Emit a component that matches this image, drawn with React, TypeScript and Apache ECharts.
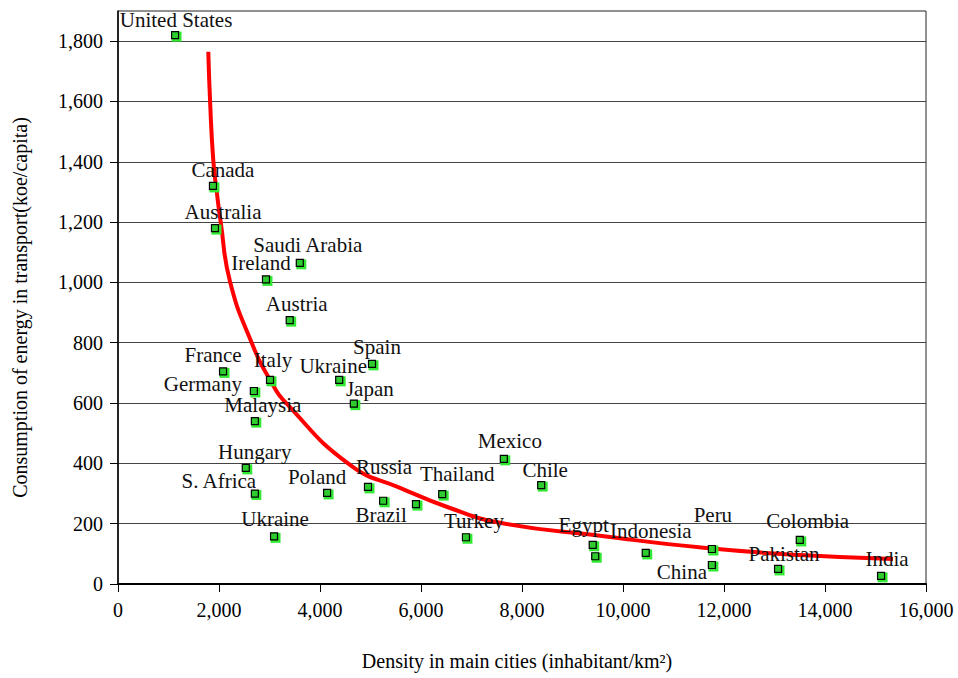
import React, { useEffect, useRef } from "react";
import * as echarts from "echarts";

// ---- data ----
const countries = [
  "United States", "Canada", "Australia", "Saudi Arabia", "Ireland", "Austria",
  "France", "Italy", "Ukraine", "Spain", "Germany", "Japan", "Malaysia",
  "Hungary", "S. Africa", "Poland", "Russia", "Brazil", "", "Ukraine",
  "Thailand", "Mexico", "Chile", "Turkey", "Egypt", "", "Indonesia",
  "Peru", "China", "Pakistan", "Colombia", "India",
];
const density = [
  1130, 1880, 1920, 3600, 2930, 3400,
  2080, 3010, 4380, 5030, 2690, 4670, 2710,
  2530, 2710, 4140, 4950, 5250, 5900, 3090,
  6420, 7640, 8380, 6890, 9400, 9450, 10450,
  11760, 11760, 13070, 13500, 15110,
];
const energy = [
  1820, 1320, 1180, 1065, 1010, 875,
  705, 677, 677, 730, 640, 598, 540,
  385, 300, 302, 322, 276, 265, 158,
  298, 415, 328, 155, 130, 92, 103,
  116, 63, 50, 146, 27,
];
// fitted trend curve
const curveX = [1788, 1822, 1887, 1974, 2032, 2218, 2647, 3010, 3340, 4594, 5584, 6574, 7564, 9545, 11600, 13505, 15347];
const curveY = [1765, 1607, 1405, 1275, 1202, 1003, 800, 677, 598, 395, 319, 252, 203, 160, 120, 96, 83];

const yTicks = [0, 200, 400, 600, 800, 1000, 1200, 1400, 1600, 1800];
const xTicks = [0, 2000, 4000, 6000, 8000, 10000, 12000, 14000, 16000];

// ---- label placement (style, offsets of label centre from the marker) ----
const labelOffsets: [number, number][] = [
  [1, -15], [10, -16], [8, -16], [8, -18], [-5, -16], [7, -16],
  [-10, -16], [3, -20], [-6, -14], [5, -17], [-51, -7], [16, -15], [8, -16],
  [9, -16], [-36, -13], [-10, -16], [16, -20], [-2, 14], [0, 0], [1, -17],
  [15, -20], [6, -18], [4, -15], [8, -16], [-9, -20], [0, 0], [5, -22],
  [1, -34], [-30, 7], [6, -15], [8, -19], [6, -17],
];

const FONT = "'Liberation Serif', 'Times New Roman', serif";
const fmt = (v: number) => v.toLocaleString("en-US");

export default function App() {
  const ref = useRef<HTMLDivElement>(null);
  useEffect(() => {
    if (!ref.current) return;
    const chart = echarts.init(ref.current, undefined, { renderer: "svg" });
    const pts = density.map((x, i) => [x, energy[i]]);
    const option: any = {
      animation: false,
      backgroundColor: "#fff",
      textStyle: { fontFamily: FONT },
      grid: {
        left: 118, right: 32, top: 11, bottom: 94,
        show: true, borderColor: "#222", borderWidth: 1, backgroundColor: "transparent",
      },
      xAxis: {
        type: "value", min: 0, max: 16000, interval: 2000,
        name: "Density in main cities (inhabitant/km²)",
        nameLocation: "middle", nameGap: 67,
        nameTextStyle: { fontFamily: FONT, fontSize: 20, color: "#000", padding: [0, 10, 0, 0] },
        axisLine: { show: true, onZero: false, lineStyle: { color: "#000", width: 2 } },
        axisTick: { show: true, length: 8, lineStyle: { color: "#000", width: 1 }, customValues: xTicks },
        axisLabel: {
          fontFamily: FONT, fontSize: 20, color: "#000", margin: 16,
          formatter: (v: number) => fmt(v), customValues: xTicks,
        },
        splitLine: { show: false },
      },
      yAxis: {
        type: "value", min: 0, max: 1900, interval: 200,
        name: "Consumption of energy in transport(koe/capita)",
        nameLocation: "middle", nameGap: 88, nameRotate: 90,
        nameTextStyle: { fontFamily: FONT, fontSize: 20, color: "#000", padding: [0, 20, 0, 0] },
        axisLine: { show: true, lineStyle: { color: "#000", width: 1.5 } },
        axisTick: { show: true, length: 8, lineStyle: { color: "#000", width: 1 }, customValues: yTicks },
        axisLabel: {
          fontFamily: FONT, fontSize: 20, color: "#000", margin: 15,
          formatter: (v: number) => (v > 1800 ? "" : fmt(v)), customValues: yTicks,
        },
        splitLine: { show: true, lineStyle: { color: "#444", width: 1 } },
      },
      series: [
        {
          type: "line",
          data: curveX.map((x, i) => [x, curveY[i]]),
          smooth: 0.5,
          symbol: "none",
          lineStyle: { color: "#ff0000", width: 4 },
          z: 3,
          silent: true,
        },
        {
          type: "scatter",
          data: pts,
          symbol: "rect",
          symbolSize: 10,
          symbolOffset: [1.5, 1.5],
          itemStyle: { color: "#33e833", opacity: 1 },
          z: 4,
          silent: true,
        },
        {
          type: "scatter",
          data: pts.map((p, i) => ({ value: p, name: countries[i] })),
          symbol: "rect",
          symbolSize: 7,
          itemStyle: { color: "#2ecc2e", borderColor: "#000", borderWidth: 1.2, opacity: 1 },
          label: {
            show: true,
            position: "inside",
            formatter: (p: any) => p.name,
            fontFamily: FONT,
            fontSize: 21,
            color: "#111",
          },
          labelLayout: (params: any) => {
            const o = labelOffsets[params.dataIndex] || [0, 0];
            return { dx: o[0], dy: o[1], hideOverlap: false };
          },
          z: 5,
          silent: true,
        },
      ],
    };
    chart.setOption(option);
    return () => chart.dispose();
  }, []);
  return (
    <div
      ref={ref}
      style={{ position: "fixed", left: 0, top: 0, width: 958, height: 678, background: "#fff" }}
    />
  );
}
